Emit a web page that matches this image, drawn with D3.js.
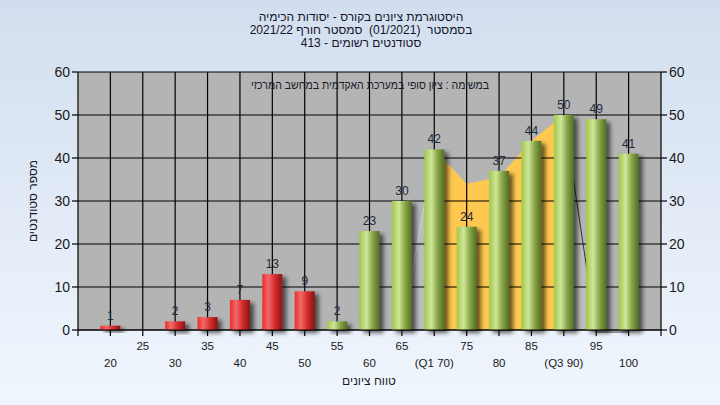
<!DOCTYPE html>
<html><head><meta charset="utf-8">
<script src="https://cdn.jsdelivr.net/npm/d3@7"></script>
<style>
html,body{margin:0;padding:0;}
svg{display:block;font-family:"Liberation Sans",Arial,sans-serif;}
</style></head>
<body>
<svg id="c" width="720" height="405"></svg>
<script>
const categories = ["20","25","30","35","40","45","50","55","60","65","70","75","80","85","90","95","100"];
const counts = [1,0,2,3,7,13,9,2,23,30,42,24,37,44,50,49,41];
const failCats = ["20","25","30","35","40","45","50"];
const rangeCats = ["65","70","75","80","85","90","95","100"];
const rangeVals = [0,42,34,35.5,44,50,0,0];
const iqrCats = ["70","75","80","85","90"];
const iqrVals = [42,34,35.5,44,50];
const yTicks = [0,10,20,30,40,50,60];
const titleLines = ["היסטוגרמת ציונים בקורס - יסודות הכימיה","בסמסטר  (01/2021)  סמסטר חורף 2021/22","סטודנטים רשומים - 413"];
const subTitle = "במשימה : ציון סופי במערכת האקדמית במחשב המרכזי";
const xTitle = "טווח ציונים";
const yTitle = "מספר סטודנטים";
const xLabelText = {"70":"(Q1 70)","90":"(Q3 90)"};

const svg = d3.select("#c");
const W=720,H=405;
const L=78,R=661,T=72,B=330;
const x = d3.scalePoint().domain(categories).range([L,R]).padding(1);
const y = d3.scaleLinear().domain([0,60]).range([B,T]);
const bw = 20;

const defs = svg.append("defs");
const bg = defs.append("linearGradient").attr("id","bg").attr("x1",0).attr("y1",0).attr("x2",0).attr("y2",1);
bg.append("stop").attr("offset","0%").attr("stop-color","#d2deef");
bg.append("stop").attr("offset","100%").attr("stop-color","#f0f6fd");
function cyl(id, stops){
  const g = defs.append("linearGradient").attr("id",id).attr("x1",0).attr("y1",0).attr("x2",1).attr("y2",0);
  stops.forEach(s=>g.append("stop").attr("offset",s[0]).attr("stop-color",s[1]));
}
cyl("gGreen",[["0%","#a0c84a"],["35%","#cfe69a"],["65%","#8aa848"],["100%","#526c24"]]);
cyl("gRed",[["0%","#f02a2a"],["30%","#f26a6a"],["60%","#d93030"],["100%","#8a1414"]]);
const f = defs.append("filter").attr("id","sh").attr("x","-30%").attr("y","-30%").attr("width","180%").attr("height","180%");
f.append("feDropShadow").attr("dx",4).attr("dy",3).attr("stdDeviation",2).attr("flood-color","#000").attr("flood-opacity",0.6);

svg.append("rect").attr("width",W).attr("height",H).attr("fill","url(#bg)");
svg.append("rect").attr("x",L).attr("y",T).attr("width",R-L).attr("height",B-T).attr("fill","#b4b4b4");

const rArea = d3.area().x((d,i)=>x(rangeCats[i])).y0(y(0)).y1(d=>y(d));
svg.append("path").datum(rangeVals).attr("d",rArea).attr("fill","#bcbcbc");
const iArea = d3.area().x((d,i)=>x(iqrCats[i])).y0(y(0)).y1(d=>y(d));
svg.append("path").datum(iqrVals).attr("d",iArea).attr("fill","#ffc850");
svg.append("line").attr("x1",x("65")).attr("y1",y(0)).attr("x2",x("70")).attr("y2",y(42)).attr("stroke","#d6d6d6").attr("stroke-width",1);
svg.append("path").attr("d",d3.line()([[x("90"),y(50)],[x("95"),y(0)+2],[x("100"),y(0)+2]])).attr("fill","none").attr("stroke","#333").attr("stroke-width",1);

const grid = svg.append("g").attr("stroke","#000").attr("stroke-width",1.2);
yTicks.forEach(t=>grid.append("line").attr("x1",L).attr("x2",R).attr("y1",y(t)).attr("y2",y(t)));
categories.forEach(c=>grid.append("line").attr("x1",x(c)).attr("x2",x(c)).attr("y1",T).attr("y2",B));

const barData = categories.map((c,i)=>({c,v:counts[i]})).filter(d=>d.v>0);
svg.append("g").selectAll("rect").data(barData)
  .join("rect")
  .attr("x",d=>x(d.c)-bw/2).attr("width",bw)
  .attr("y",d=>y(d.v)).attr("height",d=>y(0)-y(d.v))
  .attr("fill",d=>failCats.includes(d.c)?"url(#gRed)":"url(#gGreen)")
  .attr("filter","url(#sh)");

svg.append("g").selectAll("text").data(barData)
  .join("text").attr("x",d=>x(d.c)).attr("y",d=>y(d.v)-6).attr("text-anchor","middle")
  .attr("font-size",12).attr("fill","#1e2a3a").text(d=>d.v);

const ax = svg.append("g").attr("stroke","#000").attr("stroke-width",1.2);
ax.append("line").attr("x1",L).attr("x2",L).attr("y1",T).attr("y2",B+6);
ax.append("line").attr("x1",R).attr("x2",R).attr("y1",T).attr("y2",B+6);
ax.append("line").attr("x1",L).attr("x2",R).attr("y1",B).attr("y2",B);
yTicks.forEach(t=>{
  ax.append("line").attr("x1",L-6).attr("x2",L).attr("y1",y(t)).attr("y2",y(t));
  ax.append("line").attr("x1",R).attr("x2",R+6).attr("y1",y(t)).attr("y2",y(t));
});
categories.forEach(c=>ax.append("line").attr("x1",x(c)).attr("x2",x(c)).attr("y1",B).attr("y2",B+6));

const yl = svg.append("g").attr("font-size",14).attr("fill","#1a1a1a");
yTicks.forEach(t=>{
  yl.append("text").attr("x",L-8).attr("y",y(t)+5).attr("text-anchor","end").text(t);
  yl.append("text").attr("x",R+8).attr("y",y(t)+5).attr("text-anchor","start").text(t);
});

const xl = svg.append("g").attr("font-size",11.5).attr("fill","#1a1a1a");
categories.forEach((c,i)=>{
  xl.append("text").attr("x",x(c)).attr("y",i%2===0?367:350).attr("text-anchor","middle")
    .attr("direction","ltr").text(xLabelText[c]||c);
});

titleLines.forEach((t,i)=>svg.append("text").attr("x",361).attr("y",21+i*13).attr("text-anchor","middle")
  .attr("font-size",12).attr("fill","#14142a").attr("direction","rtl").style("white-space","pre").text(t));
svg.append("text").attr("x",370).attr("y",89).attr("text-anchor","middle").attr("font-size",12)
  .attr("textLength",238).attr("lengthAdjust","spacingAndGlyphs")
  .attr("fill","#1a1a2a").attr("direction","rtl").text(subTitle);
svg.append("text").attr("x",369).attr("y",385).attr("text-anchor","middle").attr("font-size",12)
  .attr("fill","#1a1a2a").attr("direction","rtl").text(xTitle);
svg.append("text").attr("transform","translate(37,201) rotate(-90)").attr("text-anchor","middle").attr("font-size",12)
  .attr("fill","#1a1a2a").attr("direction","rtl").text(yTitle);
</script>
</body></html>
